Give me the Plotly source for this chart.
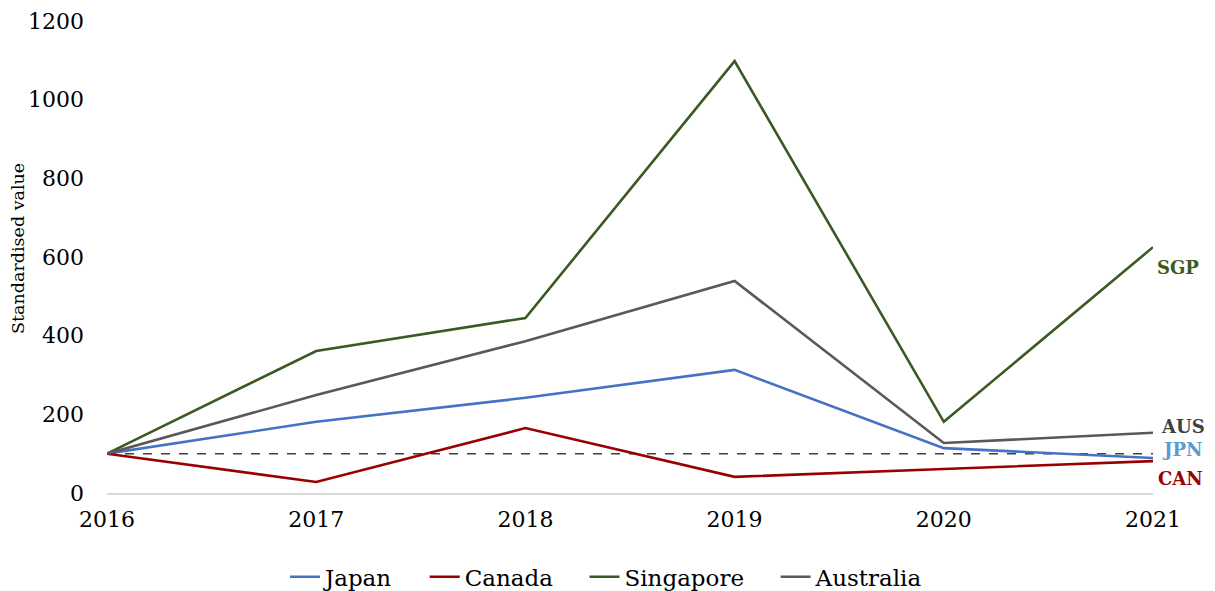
import plotly.graph_objects as go

years = [2016, 2017, 2018, 2019, 2020, 2021]
japan = [100, 181, 242, 313, 114, 89]
canada = [100, 28, 165, 41, 61, 81]
singapore = [100, 361, 445, 1098, 181, 625]
australia = [100, 249, 386, 539, 127, 153]
baseline = [100, 100, 100, 100, 100, 100]

series = [
    ("Japan", japan, "#4472C4"),
    ("Canada", canada, "#990000"),
    ("Singapore", singapore, "#3B5A23"),
    ("Australia", australia, "#595959"),
]

# end-of-line country codes: (text, series end value, colour, x nudge, y nudge in px)
end_labels = [
    ("SGP", singapore[-1], "#3B5A23", 2, -20),
    ("AUS", australia[-1], "#404040", 6, 6),
    ("JPN", japan[-1], "#5B9BD5", 7, 8),
    ("CAN", canada[-1], "#990000", 3, -17),
]

FONT = "DejaVu Serif"
PAD = "\u00a0" * 3 + "\u2009"  # extra room between legend entries

fig = go.Figure()
fig.add_trace(go.Scatter(x=years, y=baseline, mode="lines", showlegend=False,
                         line=dict(color="#404040", width=1.5, dash="dash"),
                         hoverinfo="skip"))
for i, (name, vals, color) in enumerate(series):
    label = name if i == len(series) - 1 else name + PAD
    fig.add_trace(go.Scatter(x=years, y=vals, mode="lines", name=label,
                             line=dict(color=color, width=2.6)))

for text, val, color, dx, dy in end_labels:
    fig.add_annotation(x=years[-1], y=val, text=f"<b>{text}</b>", showarrow=False,
                       xanchor="left", yanchor="middle", xshift=dx, yshift=dy,
                       font=dict(family=FONT, size=18, color=color))

# vertical y-axis title
fig.add_annotation(xref="paper", yref="paper", x=0, y=0.517, xshift=-89,
                   text="Standardised value", textangle=-90, showarrow=False,
                   xanchor="center", yanchor="middle",
                   font=dict(family=FONT, size=17.5, color="#000000"))

fig.update_layout(
    width=1215, height=591,
    margin=dict(l=107, r=62, t=21, b=98, autoexpand=False),
    paper_bgcolor="white", plot_bgcolor="white",
    font=dict(family=FONT, size=22, color="#000000"),
    showlegend=True,
    legend=dict(orientation="h", x=0.4775, xanchor="center", yref="container",
                y=0.024, yanchor="middle",
                font=dict(family=FONT, size=23), itemwidth=30, tracegroupgap=0),
    xaxis=dict(range=[2016, 2021], tickmode="array", tickvals=years, automargin=False,
               showgrid=False, zeroline=False, showline=True, linecolor="#D9D9D9",
               linewidth=1.5, ticks="", ticklabelstandoff=6),
    yaxis=dict(range=[0, 1200], tickmode="array", tickvals=[0, 200, 400, 600, 800, 1000, 1200],
               showgrid=False, zeroline=False, showline=False, ticks="", automargin=False,
               ticklabelstandoff=22),
)

fig.write_html("out.html")
